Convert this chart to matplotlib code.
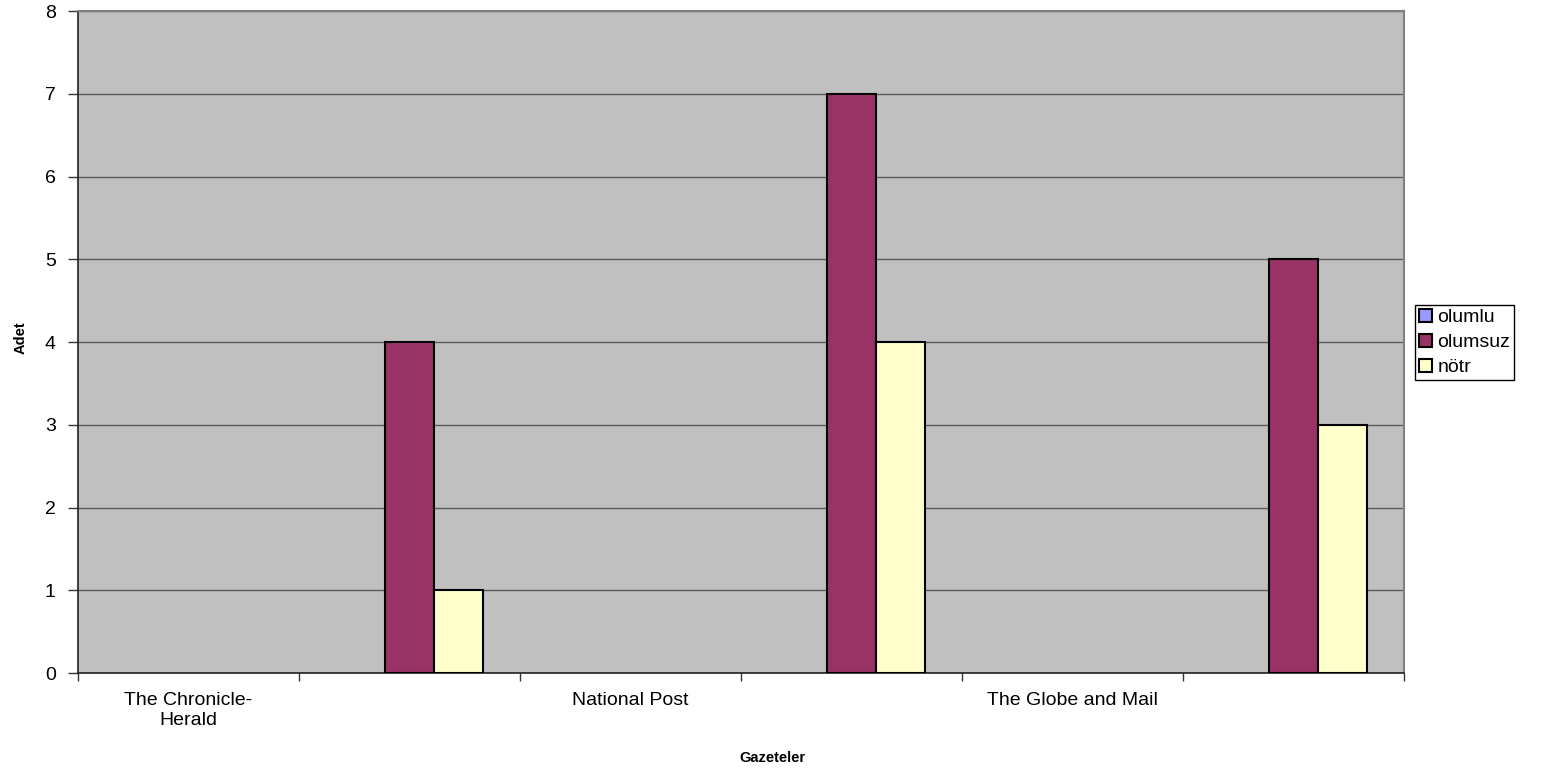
import numpy as np
import matplotlib
matplotlib.use("Agg")
import matplotlib.pyplot as plt

plt.rcParams["font.family"] = ["Liberation Sans", "DejaVu Sans"]

# ── data ──────────────────────────────────────────────
categories = ["The Chronicle-\nHerald", "", "National Post", "", "The Globe and Mail", ""]
series_names = ["olumlu", "olumsuz", "nötr"]
olumlu = [None, None, None, None, None, None]
olumsuz = [None, 4, None, 7, None, 5]
notr = [None, 1, None, 4, None, 3]
colors = ["#9999FF", "#993366", "#FFFFCC"]

# ── plot ──────────────────────────────────────────────
W, H = 1541, 773
fig = plt.figure(figsize=(W / 100, H / 100), dpi=100)
ax = fig.add_axes([78 / W, 1 - 673 / H, (1404 - 78) / W, (673 - 11) / H])
ax.set_facecolor("#C0C0C0")

x = np.arange(len(categories))
w = 1 / 4.5  # excel gap width 150%
for i, (vals, name, c) in enumerate(zip([olumlu, olumsuz, notr], series_names, colors)):
    v = np.array([np.nan if a is None else a for a in vals], dtype=float)
    ax.bar(x + (i - 1) * w, v, width=w, color=c, edgecolor="black",
           linewidth=1.5, label=name, zorder=3)

ax.set_xlim(-0.5, len(categories) - 0.5)
ax.set_ylim(0, 8)
ax.set_yticks(range(0, 9))
ax.yaxis.grid(True, color="#5a5a5a", linewidth=1, zorder=1)

ax.set_xticks(x)
ax.set_xticklabels(categories)
ax.set_xticks(np.arange(-0.5, len(categories)), minor=True)
ax.tick_params(axis="x", which="major", length=0, pad=14, labelsize=14)
ax.tick_params(axis="x", which="minor", length=6, width=1, color="#333333")
ax.tick_params(axis="y", length=7, width=1, color="#333333", labelsize=14, pad=9)

for s in ["top", "right"]:
    ax.spines[s].set_color("#808080")
    ax.spines[s].set_linewidth(1.5)
for s in ["left", "bottom"]:
    ax.spines[s].set_color("#222222")
    ax.spines[s].set_linewidth(1.2)

# axis titles (excel puts them slightly off-centre)
fig.text(772 / W, 1 - 758 / H, "Gazeteler", fontsize=10.5, fontweight="bold",
         ha="center", va="center")
fig.text(21 / W, 1 - 338 / H, "Adet", fontsize=10.5, fontweight="bold",
         ha="center", va="center", rotation=90)

leg = ax.legend(loc="upper left", bbox_to_anchor=(1415 / W, 1 - 305 / H),
                bbox_transform=fig.transFigure, fontsize=14, frameon=True,
                fancybox=False, edgecolor="black", framealpha=1,
                handlelength=0.65, handleheight=0.65, handletextpad=0.3,
                labelspacing=0.4, borderpad=0.2, borderaxespad=0)
leg.get_frame().set_linewidth(1)

fig.savefig("out.png", dpi=100)
